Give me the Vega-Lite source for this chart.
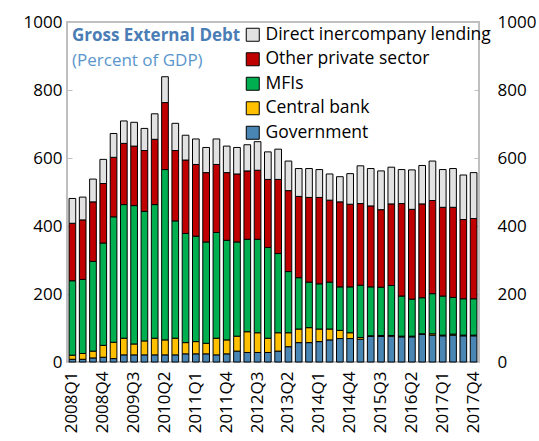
{
  "$schema": "https://vega.github.io/schema/vega-lite/v6.json",
  "width": 412,
  "height": 340,
  "autosize": {"type": "none"},
  "padding": {"left": 67, "top": 22, "right": 60, "bottom": 79},
  "background": "white",
  "config": {
    "view": {"stroke": "#BFBFBF", "strokeWidth": 2},
    "font": "Open Sans",
    "axis": {"grid": false, "labelFont": "Open Sans", "labelFontSize": 17, "labelColor": "#000000", "domain": false, "tickColor": "#BFBFBF", "title": null},
    "legend": {"orient": "none", "legendX": 177, "legendY": 4, "title": null, "symbolType": "square", "symbolSize": 169, "symbolStrokeColor": "#000000", "symbolStrokeWidth": 1, "labelFontSize": 17.5, "labelFont": "Open Sans", "labelColor": "#000000", "rowPadding": 5.5, "labelOffset": 4, "labelLimit": 400}
  },
  "title": {
    "text": "Gross External Debt",
    "subtitle": "(Percent of GDP)",
    "anchor": "start",
    "frame": "group",
    "orient": "top",
    "offset": -57,
    "dx": 5,
    "font": "Open Sans",
    "fontSize": 17,
    "fontWeight": "bold",
    "color": "#4A7DB5",
    "subtitleFont": "Open Sans",
    "subtitleFontSize": 17,
    "subtitleColor": "#5A96CC",
    "subtitlePadding": 8
  },
  "data": {"values": [
    {"q":"2008Q1","Government":8,"Central bank":12,"MFIs":219,"Other private sector":169,"Direct inercompany lending":73},
    {"q":"2008Q2","Government":8,"Central bank":17,"MFIs":218,"Other private sector":175,"Direct inercompany lending":67},
    {"q":"2008Q3","Government":12,"Central bank":20,"MFIs":264,"Other private sector":175,"Direct inercompany lending":67},
    {"q":"2008Q4","Government":14,"Central bank":35,"MFIs":301,"Other private sector":175,"Direct inercompany lending":71},
    {"q":"2009Q1","Government":10,"Central bank":48,"MFIs":369,"Other private sector":175,"Direct inercompany lending":70},
    {"q":"2009Q2","Government":21,"Central bank":49,"MFIs":393,"Other private sector":180,"Direct inercompany lending":66},
    {"q":"2009Q3","Government":21,"Central bank":32,"MFIs":407,"Other private sector":175,"Direct inercompany lending":70},
    {"q":"2009Q4","Government":21,"Central bank":41,"MFIs":381,"Other private sector":179,"Direct inercompany lending":65},
    {"q":"2010Q1","Government":21,"Central bank":49,"MFIs":393,"Other private sector":192,"Direct inercompany lending":75},
    {"q":"2010Q2","Government":21,"Central bank":44,"MFIs":501,"Other private sector":197,"Direct inercompany lending":76},
    {"q":"2010Q3","Government":21,"Central bank":49,"MFIs":345,"Other private sector":207,"Direct inercompany lending":80},
    {"q":"2010Q4","Government":24,"Central bank":33,"MFIs":321,"Other private sector":216,"Direct inercompany lending":73},
    {"q":"2011Q1","Government":24,"Central bank":36,"MFIs":310,"Other private sector":211,"Direct inercompany lending":75},
    {"q":"2011Q2","Government":24,"Central bank":31,"MFIs":298,"Other private sector":204,"Direct inercompany lending":74},
    {"q":"2011Q3","Government":21,"Central bank":49,"MFIs":311,"Other private sector":200,"Direct inercompany lending":75},
    {"q":"2011Q4","Government":24,"Central bank":41,"MFIs":293,"Other private sector":199,"Direct inercompany lending":78},
    {"q":"2012Q1","Government":32,"Central bank":44,"MFIs":277,"Other private sector":200,"Direct inercompany lending":78},
    {"q":"2012Q2","Government":28,"Central bank":61,"MFIs":272,"Other private sector":201,"Direct inercompany lending":77},
    {"q":"2012Q3","Government":28,"Central bank":58,"MFIs":275,"Other private sector":203,"Direct inercompany lending":84},
    {"q":"2012Q4","Government":28,"Central bank":42,"MFIs":267,"Other private sector":200,"Direct inercompany lending":81},
    {"q":"2013Q1","Government":32,"Central bank":54,"MFIs":233,"Other private sector":218,"Direct inercompany lending":89},
    {"q":"2013Q2","Government":45,"Central bank":41,"MFIs":180,"Other private sector":238,"Direct inercompany lending":87},
    {"q":"2013Q3","Government":57,"Central bank":40,"MFIs":151,"Other private sector":239,"Direct inercompany lending":82},
    {"q":"2013Q4","Government":57,"Central bank":44,"MFIs":134,"Other private sector":249,"Direct inercompany lending":85},
    {"q":"2014Q1","Government":60,"Central bank":37,"MFIs":133,"Other private sector":254,"Direct inercompany lending":82},
    {"q":"2014Q2","Government":65,"Central bank":32,"MFIs":138,"Other private sector":241,"Direct inercompany lending":77},
    {"q":"2014Q3","Government":69,"Central bank":24,"MFIs":128,"Other private sector":250,"Direct inercompany lending":74},
    {"q":"2014Q4","Government":69,"Central bank":17,"MFIs":135,"Other private sector":243,"Direct inercompany lending":90},
    {"q":"2015Q1","Government":67,"Central bank":5,"MFIs":154,"Other private sector":240,"Direct inercompany lending":111},
    {"q":"2015Q2","Government":76,"Central bank":1,"MFIs":144,"Other private sector":238,"Direct inercompany lending":110},
    {"q":"2015Q3","Government":75,"Central bank":3,"MFIs":142,"Other private sector":228,"Direct inercompany lending":114},
    {"q":"2015Q4","Government":76,"Central bank":2,"MFIs":147,"Other private sector":240,"Direct inercompany lending":108},
    {"q":"2016Q1","Government":74,"Central bank":2,"MFIs":118,"Other private sector":272,"Direct inercompany lending":100},
    {"q":"2016Q2","Government":74,"Central bank":2,"MFIs":109,"Other private sector":264,"Direct inercompany lending":116},
    {"q":"2016Q3","Government":81,"Central bank":2,"MFIs":106,"Other private sector":276,"Direct inercompany lending":113},
    {"q":"2016Q4","Government":79,"Central bank":4,"MFIs":118,"Other private sector":274,"Direct inercompany lending":116},
    {"q":"2017Q1","Government":77,"Central bank":2,"MFIs":115,"Other private sector":261,"Direct inercompany lending":111},
    {"q":"2017Q2","Government":79,"Central bank":3,"MFIs":108,"Other private sector":265,"Direct inercompany lending":114},
    {"q":"2017Q3","Government":77,"Central bank":2,"MFIs":107,"Other private sector":233,"Direct inercompany lending":131},
    {"q":"2017Q4","Government":77,"Central bank":2,"MFIs":107,"Other private sector":236,"Direct inercompany lending":135}
  ]},
  "transform": [
    {"fold": ["Government", "Central bank", "MFIs", "Other private sector", "Direct inercompany lending"], "as": ["series", "value"]},
    {"calculate": "indexof(['Government','Central bank','MFIs','Other private sector','Direct inercompany lending'], datum.series)", "as": "rank"}
  ],
  "layer": [
    {
      "mark": {"type": "bar", "stroke": "#000000", "strokeWidth": 1},
      "encoding": {
        "x": {"field": "q", "type": "ordinal", "sort": null, "scale": {"paddingInner": 0.35, "paddingOuter": 0.2},
              "axis": {"values": ["2008Q1","2008Q4","2009Q3","2010Q2","2011Q1","2011Q4","2012Q3","2013Q2","2014Q1","2014Q4","2015Q3","2016Q2","2017Q1","2017Q4"], "labelAngle": -90, "ticks": false, "labelPadding": 9}},
        "y": {"field": "value", "type": "quantitative", "stack": "zero", "scale": {"domain": [0, 1000], "nice": false},
              "axis": {"orient": "left", "values": [0,200,400,600,800,1000], "format": "d", "tickSize": -5, "labelPadding": 10}},
        "color": {"field": "series", "type": "nominal",
                  "scale": {"domain": ["Direct inercompany lending", "Other private sector", "MFIs", "Central bank", "Government"],
                            "range": ["#E2E2E2", "#C00000", "#00B050", "#FFC000", "#4A86B4"]}},
        "order": {"field": "rank", "type": "quantitative"}
      }
    },
    {
      "mark": {"type": "bar", "opacity": 0},
      "encoding": {
        "x": {"field": "q", "type": "ordinal", "sort": null},
        "y": {"field": "value", "type": "quantitative", "stack": "zero", "scale": {"domain": [0, 1000], "nice": false},
              "axis": {"orient": "right", "values": [0,200,400,600,800,1000], "format": "d", "tickSize": -5, "labelPadding": 23}},
        "order": {"field": "rank", "type": "quantitative"}
      }
    }
  ],
  "resolve": {"scale": {"y": "independent"}}
}
